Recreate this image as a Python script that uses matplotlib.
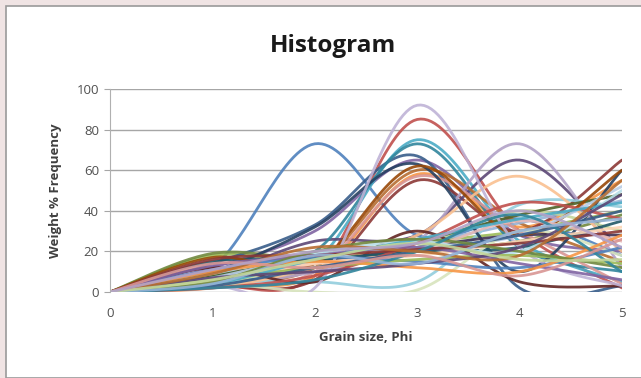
import numpy as np
import matplotlib.pyplot as plt
from matplotlib.patches import Rectangle

# grain size classes (phi)
PHI = [0, 1, 2, 3, 4, 5]

# weight % frequency per sample
SAMPLES = [
    [0, 12, 73, 28, 36, 18],
    [0, 3, 8, 85, 30, 2],
    [0, 18, 15, 24, 30, 40],
    [0, 12, 30, 65, 28, 20],
    [0, 5, 15, 75, 25, 5],
    [0, 4, 8, 58, 32, 55],
    [0, 14, 33, 67, 2, 3],
    [0, 3, 6, 55, 30, 65],
    [0, 19, 16, 20, 25, 38],
    [0, 8, 25, 28, 65, 20],
    [0, 8, 20, 73, 22, 10],
    [0, 5, 12, 60, 34, 15],
    [0, 10, 18, 24, 34, 45],
    [0, 2, 10, 57, 30, 4],
    [0, 4, 14, 22, 40, 30],
    [0, 3, 10, 25, 73, 12],
    [0, 5, 5, 5, 43, 42],
    [0, 2, 12, 28, 57, 20],
    [0, 10, 32, 63, 10, 60],
    [0, 12, 5, 30, 5, 3],
    [0, 8, 17, 25, 38, 48],
    [0, 6, 14, 22, 28, 28],
    [0, 15, 16, 20, 22, 35],
    [0, 17, 14, 62, 28, 60],
    [0, 7, 18, 22, 28, 52],
    [0, 6, 14, 20, 35, 25],
    [0, 4, 0, 1, 30, 18],
    [0, 3, 2, 92, 22, 3],
    [0, 9, 19, 25, 20, 50],
    [0, 5, 14, 18, 25, 32],
    [0, 11, 17, 15, 12, 22],
    [0, 2, 8, 24, 44, 36],
    [0, 6, 12, 16, 18, 14],
    [0, 13, 18, 22, 14, 6],
    [0, 4, 16, 26, 36, 44],
    [0, 10, 15, 12, 10, 28],
    [0, 3, 12, 20, 28, 40],
    [0, 16, 18, 21, 24, 30],
    [0, 5, 20, 26, 20, 12],
    [0, 7, 10, 14, 22, 48],
    [0, 2, 6, 20, 38, 10],
    [0, 9, 22, 20, 18, 55],
    [0, 4, 18, 14, 30, 36],
    [0, 14, 12, 18, 8, 26],
    [0, 6, 16, 24, 16, 16],
    [0, 11, 20, 24, 40, 22],
]

# Excel 2007 series colours
COLORS = [
    "#4F81BD", "#C0504D", "#9BBB59", "#8064A2", "#4BACC6", "#F79646",
    "#385D8A", "#8C3836", "#71893F", "#5C4776", "#31859C", "#B66D31",
    "#95B3D7", "#D99694", "#C3D69B", "#B2A2C7", "#93CDDD", "#FAC090",
    "#254061", "#632523", "#4F6228", "#3F3151", "#215968", "#984807",
    "#B9CDE5", "#E6B9B8", "#D7E4BD", "#BFB3D6", "#B7DEE8", "#FCD5B5",
]


def smooth(xs, ys, n=30):
    # Excel style smoothed line (Catmull-Rom through the points)
    xs = np.asarray(xs, float)
    ys = np.asarray(ys, float)
    px = np.concatenate([[xs[0]], xs, [xs[-1]]])
    py = np.concatenate([[ys[0]], ys, [ys[-1]]])
    out_x, out_y = [], []
    t = np.linspace(0, 1, n)
    for i in range(1, len(px) - 2):
        for p, out in ((px, out_x), (py, out_y)):
            p0, p1, p2, p3 = p[i - 1], p[i], p[i + 1], p[i + 2]
            b1 = p1 + (p2 - p0) / 6
            b2 = p2 - (p3 - p1) / 6
            out.extend((1 - t) ** 3 * p1 + 3 * (1 - t) ** 2 * t * b1
                       + 3 * (1 - t) * t ** 2 * b2 + t ** 3 * p2)
    return out_x, out_y


fig = plt.figure(figsize=(6.41, 3.78), dpi=100)
fig.patch.set_facecolor("white")
fig.patches.append(Rectangle((0, 0), 1, 1, transform=fig.transFigure,
                             facecolor="#F0E4E4", edgecolor="none", zorder=-3))
fig.patches.append(Rectangle((6 / 641, 0), 1, 1 - 6 / 378, transform=fig.transFigure,
                             facecolor="white", edgecolor="#9A9A9A", lw=1.2, zorder=-2))

ax = fig.add_axes([110 / 641, 86 / 378, 512 / 641, 203 / 378])
ax.set_facecolor("none")

for i, vals in enumerate(SAMPLES):
    sx, sy = smooth(PHI, vals)
    ax.plot(sx, sy, color=COLORS[i % len(COLORS)], lw=2.0, alpha=0.9,
            solid_capstyle="round")

ax.set_xlim(0, 5)
ax.set_ylim(0, 100)
ax.set_xticks(PHI)
ax.set_yticks(range(0, 101, 20))
ax.grid(axis="y", color="#A6A6A6", lw=1)
ax.set_axisbelow(True)
for s in ["top", "right", "bottom"]:
    ax.spines[s].set_visible(False)
ax.spines["left"].set_color("#B0B0B0")
ax.tick_params(axis="y", length=4, color="#A6A6A6", labelsize=9.5,
               labelcolor="#505050", pad=4)
ax.tick_params(axis="x", length=0, labelsize=9.5, labelcolor="#505050", pad=11)
for lab in ax.get_xticklabels() + ax.get_yticklabels():
    lab.set_fontfamily("Open Sans")

ax.set_xlabel("Grain size, Phi", fontsize=9.5, fontweight="bold",
              color="#404040", family="Open Sans", labelpad=8)
ax.set_ylabel("Weight % Frequency", fontsize=9.5, fontweight="bold",
              color="#404040", family="Open Sans", labelpad=10)
fig.text(333 / 641, 1 - 46 / 378, "Histogram", ha="center", va="center",
         fontsize=17.5, fontweight="bold", family="Open Sans", color="#1a1a1a")

fig.savefig("out.png", dpi=100)
